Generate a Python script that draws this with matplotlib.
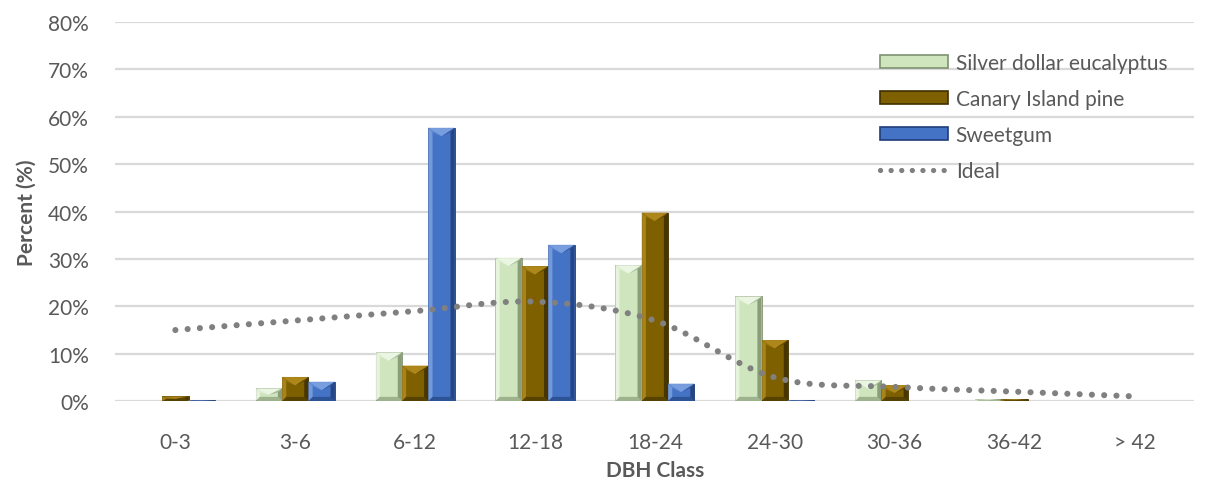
import numpy as np
import matplotlib
matplotlib.use("Agg")
import matplotlib.pyplot as plt
from matplotlib.patches import Patch
from matplotlib.lines import Line2D
from matplotlib.ticker import PercentFormatter, MultipleLocator

plt.rcParams['font.family'] = ['Lato', 'DejaVu Sans']

# DBH class distribution (fraction of trees per class)
classes = ["0-3", "3-6", "6-12", "12-18", "18-24", "24-30", "30-36", "36-42", "> 42"]
silver_dollar = [0.000, 0.027, 0.103, 0.303, 0.287, 0.221, 0.044, 0.004, 0.000]
canary_pine = [0.010, 0.051, 0.075, 0.285, 0.398, 0.129, 0.034, 0.004, 0.000]
sweetgum = [0.002, 0.041, 0.577, 0.330, 0.037, 0.002, 0.000, 0.000, 0.000]
ideal = [0.15, 0.17, 0.19, 0.21, 0.17, 0.05, 0.03, 0.02, 0.01]

series = [
    ("Silver dollar eucalyptus", silver_dollar, "#cfe5bd", "#eef8e6", "#7e9170"),
    ("Canary Island pine", canary_pine, "#7f6000", "#b38c1e", "#3f2f00"),
    ("Sweetgum", sweetgum, "#4472c4", "#7fa4e4", "#203d78"),
]

TEXT = "#595959"
GRID = "#d9d9d9"
FS = 15


def smooth(xs, ys, steps=20):
    # Catmull-Rom spline through the points, like a spreadsheet "smoothed line"
    xs = np.asarray(xs, float)
    ys = np.asarray(ys, float)
    px = np.concatenate([[2 * xs[0] - xs[1]], xs, [2 * xs[-1] - xs[-2]]])
    py = np.concatenate([[2 * ys[0] - ys[1]], ys, [2 * ys[-1] - ys[-2]]])
    out_x, out_y = [], []
    t = np.linspace(0, 1, steps, endpoint=False)
    for i in range(1, len(px) - 2):
        for p, out in ((px, out_x), (py, out_y)):
            p0, p1, p2, p3 = p[i - 1], p[i], p[i + 1], p[i + 2]
            out.extend(0.5 * ((2 * p1) + (-p0 + p2) * t
                              + (2 * p0 - 5 * p1 + 4 * p2 - p3) * t ** 2
                              + (-p0 + 3 * p1 - 3 * p2 + p3) * t ** 3))
    out_x.append(xs[-1])
    out_y.append(ys[-1])
    return np.array(out_x), np.array(out_y)


def bevel(ax, bar, light, dark):
    x0, w, h = bar.get_x(), bar.get_width(), bar.get_height()
    if h <= 0:
        return
    x1, top = x0 + w, h
    dx = min(0.035, w / 2)
    dy = min(0.009, h / 2)
    tri = min(0.018, h / 2)
    # left and right edges
    ax.fill([x0, x0 + dx, x0 + dx, x0], [0, dy, top - dy, top], color=light, lw=0, zorder=3, alpha=0.8)
    ax.fill([x1, x1 - dx, x1 - dx, x1], [0, dy, top - dy, top], color=dark, lw=0, zorder=3, alpha=0.85)
    # bottom edge
    ax.fill([x0, x1, x1 - dx, x0 + dx], [0, 0, dy, dy], color=dark, lw=0, zorder=3, alpha=0.6)
    # slanted top facet
    xm = (x0 + x1) / 2
    ax.fill([x0, x1, xm], [top, top, top - tri], color=light, lw=0, zorder=3, alpha=0.9)
    ax.fill([x0, xm, x0 + dx], [top, top - tri, top - dy], color=light, lw=0, zorder=3, alpha=0.5)
    ax.fill([x1, xm, x1 - dx], [top, top - tri, top - dy], color=dark, lw=0, zorder=3, alpha=0.5)


fig = plt.figure(figsize=(12.15, 4.81), dpi=100)
ax = fig.add_axes([0.095, 0.164, 0.888, 0.788])

x = np.arange(len(classes))
width = 0.22
handles = []
for i, (name, vals, face, light, dark) in enumerate(series):
    bars = ax.bar(x + (i - 1) * width, vals, width, color=face, edgecolor=dark, linewidth=0.6, zorder=2)
    for b in bars:
        bevel(ax, b, light, dark)
    handles.append(Patch(facecolor=face, edgecolor=dark, linewidth=1.2, label=name))

dots = (0, (0.01, 2.0))
sx, sy = smooth(x, ideal)
ax.plot(sx, sy, color="#808080", lw=4.4, linestyle=dots, dash_capstyle="round", zorder=4)
handles.append(Line2D([], [], color="#808080", lw=3.8, linestyle=dots,
                      dash_capstyle="round", label="Ideal"))

ax.set_xlim(-0.5, len(classes) - 0.5)
ax.set_ylim(0, 0.8)
ax.yaxis.set_major_locator(MultipleLocator(0.1))
ax.yaxis.set_major_formatter(PercentFormatter(1.0, decimals=0))
ax.set_xticks(x)
ax.set_xticklabels(classes)
ax.grid(axis="y", color=GRID, lw=1.6, zorder=0)
ax.set_axisbelow(True)
for s in ax.spines.values():
    s.set_visible(False)
ax.tick_params(length=0, labelsize=FS, colors=TEXT)
ax.tick_params(axis="y", pad=19)
ax.tick_params(axis="x", pad=22)

ax.set_ylabel("Percent (%)", fontsize=FS, fontweight="bold", color=TEXT, labelpad=8)
ax.set_xlabel("DBH Class", fontsize=FS, fontweight="bold", color=TEXT, labelpad=6)

leg = ax.legend(handles=handles, loc="upper left", bbox_to_anchor=(0.691, 0.968),
                frameon=False, fontsize=FS, handlelength=3.3, handleheight=0.55,
                handletextpad=0.35, labelspacing=0.77, labelcolor=TEXT)

fig.savefig("out.png", dpi=100, facecolor="white")
